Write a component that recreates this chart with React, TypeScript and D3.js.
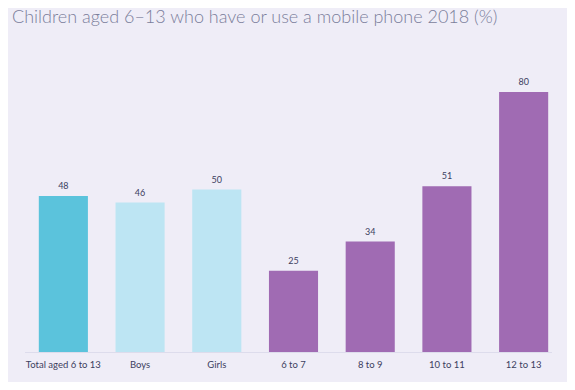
import React, { useEffect, useRef } from 'react';
import * as d3 from 'd3';

const categories = ['Total aged 6 to 13', 'Boys', 'Girls', '6 to 7', '8 to 9', '10 to 11', '12 to 13'];
const values = [48, 46, 50, 25, 34, 51, 80];
const groups = ['total', 'gender', 'gender', 'age', 'age', 'age', 'age'];

const COLORS: Record<string, string> = {
  total: '#5bc3dc',
  gender: '#bde5f3',
  age: '#a06bb3',
};

const W = 575;
const H = 390;

export default function App() {
  const svgRef = useRef<SVGSVGElement>(null);

  useEffect(() => {
    if (!svgRef.current) return;
    const svg = d3.select(svgRef.current);
    svg.selectAll('*').remove();

    svg.append('rect').attr('width', W).attr('height', H).attr('fill', '#efedf7');

    // Title
    svg.append('text')
      .attr('x', 12)
      .attr('y', 23)
      .text('Children aged 6–13 who have or use a mobile phone 2018 (%)')
      .attr('fill', '#7b7e9b')
      .attr('font-size', '18px')
      .attr('font-family', 'Lato, sans-serif')
      .attr('font-weight', 300);

    const x = d3.scaleBand<string>()
      .domain(categories)
      .range([25, 562])
      .paddingInner(0.36)
      .paddingOuter(0.18);

    const y = d3.scaleLinear().domain([0, 80]).range([352, 92]);

    // baseline
    svg.append('line')
      .attr('x1', 25).attr('x2', 552)
      .attr('y1', y(0) + 0.5).attr('y2', y(0) + 0.5)
      .attr('stroke', '#dddcec').attr('stroke-width', 1);

    const data = categories.map((c, i) => ({ c, v: values[i], g: groups[i] }));

    svg.selectAll('.bar')
      .data(data)
      .enter().append('rect')
      .attr('class', 'bar')
      .attr('x', d => x(d.c)!)
      .attr('y', d => y(d.v))
      .attr('width', x.bandwidth())
      .attr('height', d => y(0) - y(d.v))
      .attr('fill', d => COLORS[d.g]);

    svg.selectAll('.val')
      .data(data)
      .enter().append('text')
      .attr('x', d => x(d.c)! + x.bandwidth() / 2)
      .attr('y', d => y(d.v) - 7)
      .attr('text-anchor', 'middle')
      .text(d => d.v)
      .attr('fill', '#3c4060')
      .attr('font-size', '9px')
      .attr('font-family', 'Lato, sans-serif');

    svg.selectAll('.cat')
      .data(data)
      .enter().append('text')
      .attr('x', d => x(d.c)! + x.bandwidth() / 2)
      .attr('y', 368)
      .attr('text-anchor', 'middle')
      .text(d => d.c)
      .attr('fill', '#3c4060')
      .attr('font-size', '9.5px')
      .attr('font-family', 'Lato, sans-serif');
  }, []);

  return (
    <div style={{ margin: -8, width: W, height: H }}>
      <svg ref={svgRef} width={W} height={H} style={{ display: 'block' }} />
    </div>
  );
}
